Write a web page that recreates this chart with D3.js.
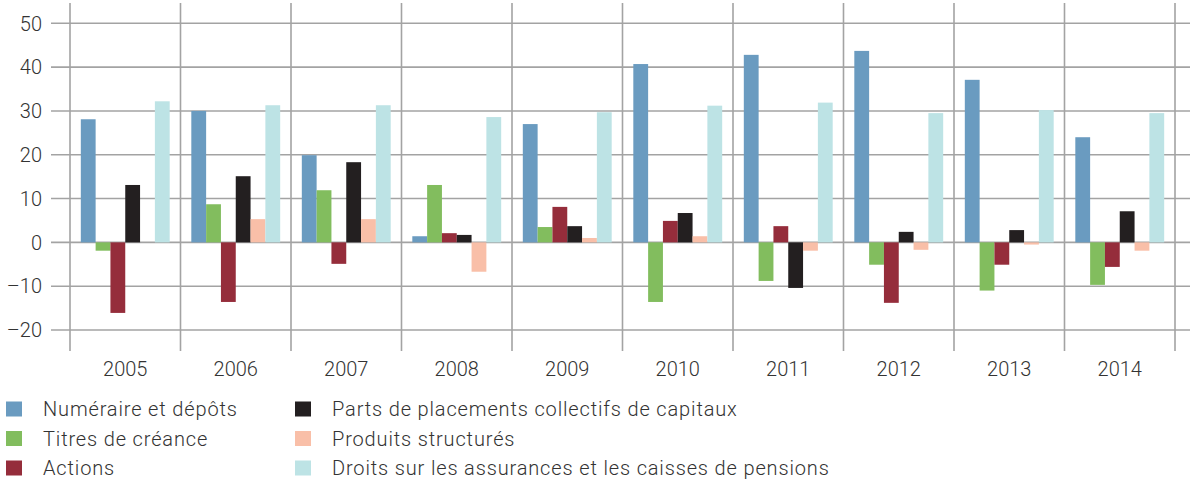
<!DOCTYPE html>
<html><head><meta charset="utf-8">
<script src="https://cdn.jsdelivr.net/npm/d3@7"></script>
<style>
html,body{margin:0;padding:0;background:#fff;}
svg text{font-family:Roboto,"Liberation Sans",sans-serif;font-weight:300;fill:#333;}
</style></head>
<body>
<svg id="chart" width="1190" height="486"></svg>
<script>
const years = ["2005","2006","2007","2008","2009","2010","2011","2012","2013","2014"];
const seriesNames = ["Numéraire et dépôts","Titres de créance","Actions","Parts de placements collectifs de capitaux","Produits structurés","Droits sur les assurances et les caisses de pensions"];
const seriesColors = ["#6a9bc0","#82bd5e","#952d3b","#231f20","#f9bfa8","#bde3e5"];
const numeraire = [28.1,30.0,19.9,1.4,27.0,40.7,42.8,43.7,37.1,24.0];
const titres    = [-1.9,8.7,11.9,13.1,3.5,-13.6,-8.8,-5.1,-11.0,-9.7];
const actions   = [-16.1,-13.6,-4.9,2.1,8.1,4.9,3.7,-13.8,-5.1,-5.6];
const parts     = [13.1,15.1,18.3,1.7,3.7,6.7,-10.4,2.4,2.8,7.1];
const produits  = [0,5.3,5.3,-6.7,1.0,1.4,-1.9,-1.7,-0.5,-1.9];
const droits    = [32.2,31.3,31.3,28.6,29.7,31.2,31.9,29.5,30.2,29.5];
const yTicks = [-20,-10,0,10,20,30,40,50];
const seriesValues = [numeraire,titres,actions,parts,produits,droits];

const svg = d3.select("#chart");
const y = d3.scaleLinear().domain([-20,50]).range([330,23.3]);
const x0 = d3.scaleBand().domain(years).range([70,1175]).padding(0);
const x1 = d3.scaleBand().domain(d3.range(6)).range([0,x0.bandwidth()]).paddingInner(0).paddingOuter(0.73);

const grid = svg.append("g");
grid.selectAll("line.h").data(yTicks).join("line")
  .attr("x1",51).attr("x2",1190)
  .attr("y1",d=>y(d)).attr("y2",d=>y(d))
  .attr("stroke","#a3a3a3").attr("stroke-width",1.6);
const vx = years.map(d=>x0(d)).concat([x0(years[years.length-1])+x0.bandwidth()]);
grid.selectAll("line.v").data(vx).join("line")
  .attr("x1",d=>d).attr("x2",d=>d)
  .attr("y1",3).attr("y2",351)
  .attr("stroke","#a3a3a3").attr("stroke-width",1.6);

svg.append("g").selectAll("text").data(yTicks).join("text")
  .attr("x",42).attr("y",d=>y(d)).attr("dy","0.36em")
  .attr("text-anchor","end").style("font-size","20px")
  .text(d=>d<0?"\u2013"+Math.abs(d):d);

const groups = svg.append("g").selectAll("g").data(years).join("g")
  .attr("transform",d=>`translate(${x0(d)},0)`);
groups.selectAll("rect").data((d,i)=>seriesValues.map((s,k)=>({k,v:s[i]}))).join("rect")
  .attr("x",d=>x1(d.k)).attr("width",x1.bandwidth())
  .attr("y",d=>y(Math.max(0,d.v))).attr("height",d=>Math.abs(y(d.v)-y(0)))
  .attr("fill",d=>seriesColors[d.k]);

svg.append("g").selectAll("text").data(years).join("text")
  .attr("x",d=>x0(d)+x0.bandwidth()/2).attr("y",376)
  .attr("text-anchor","middle").style("font-size","20px")
  .text(d=>d);

const legend = svg.append("g");
const lg = legend.selectAll("g").data(seriesNames).join("g")
  .attr("transform",(d,i)=>`translate(${i<3?6:295},${401.5+(i%3)*29.5})`);
lg.append("rect").attr("width",16).attr("height",15).attr("fill",(d,i)=>seriesColors[i]);
lg.append("text").attr("x",37).attr("y",7.5).attr("dy","0.36em")
  .style("font-size","20px").style("letter-spacing","0.85px").text(d=>d);
</script>
</body></html>
